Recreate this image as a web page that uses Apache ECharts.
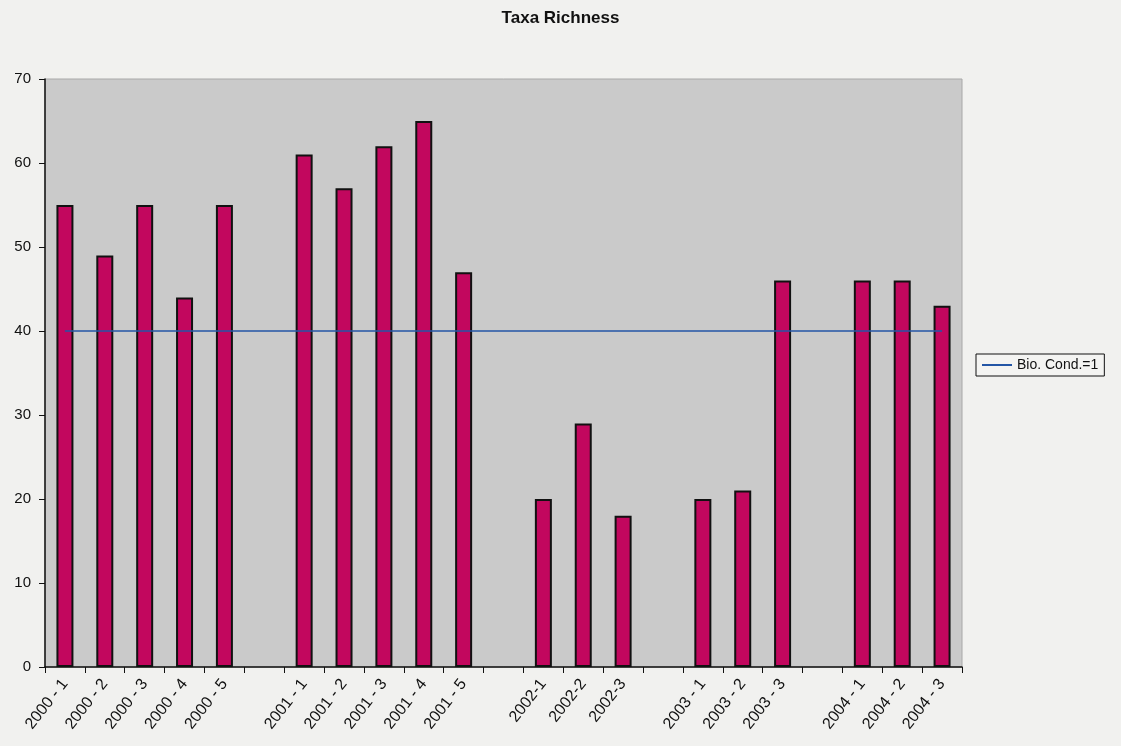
<!DOCTYPE html>
<html>
<head>
<meta charset="utf-8">
<title>Taxa Richness</title>
<script src="https://cdn.jsdelivr.net/npm/echarts@6/dist/echarts.min.js"></script>
<style>
  html, body { margin: 0; padding: 0; background: #f1f1ef; }
  #chart { width: 1121px; height: 746px; }
</style>
</head>
<body>
<div id="chart"></div>
<script>
// sample periods, blank slots are the gaps between years
var categories = ['2000 - 1', '2000 - 2', '2000 - 3', '2000 - 4', '2000 - 5', ' ',
                  '2001 - 1', '2001 - 2', '2001 - 3', '2001 - 4', '2001 - 5', '  ',
                  '2002-1', '2002-2', '2002-3', '   ',
                  '2003 - 1', '2003 - 2', '2003 - 3', '    ',
                  '2004 - 1', '2004 - 2', '2004 - 3'];

var taxaRichness = [55, 49, 55, 44, 55, null,
                    61, 57, 62, 65, 47, null,
                    20, 29, 18, null,
                    20, 21, 46, null,
                    46, 46, 43];

// reference line
var bioCondition = [40, 40, 40, 40, 40, 40, 40, 40, 40, 40, 40, 40,
                    40, 40, 40, 40, 40, 40, 40, 40, 40, 40, 40];

var yTicks = { min: 0, max: 70, interval: 10 };

var myChart = echarts.init(document.getElementById('chart'));
myChart.setOption({
  backgroundColor: '#f1f1ef',
  animation: false,
  textStyle: { fontFamily: 'Liberation Sans, Arial, sans-serif', color: '#000' },
  title: {
    text: 'Taxa Richness',
    left: 'center',
    top: 5,
    textStyle: { fontSize: 17, fontWeight: 'bold', color: '#111' }
  },
  legend: {
    data: [{ name: 'Bio. Cond.=1', icon: 'rect' }],
    orient: 'vertical',
    left: 976,
    top: 354,
    itemWidth: 30,
    itemHeight: 2,
    itemGap: 4,
    padding: [4, 6, 4, 6],
    borderColor: '#111',
    borderWidth: 1,
    backgroundColor: '#f4f4f2',
    borderRadius: 0,
    textStyle: { fontSize: 14, color: '#111' }
  },
  grid: {
    left: 45,
    right: 159,
    top: 79,
    bottom: 79,
    show: true,
    backgroundColor: '#cacaca',
    borderColor: '#a8a8a8',
    borderWidth: 1
  },
  xAxis: {
    type: 'category',
    data: categories,
    axisLine: { lineStyle: { color: '#111', width: 1.5 } },
    axisTick: { show: true, inside: false, length: 6, lineStyle: { color: '#111' } },
    axisLabel: {
      interval: 0,
      rotate: 52,
      fontSize: 16,
      color: '#111',
      margin: 14
    },
    splitLine: { show: false }
  },
  yAxis: {
    type: 'value',
    min: yTicks.min,
    max: yTicks.max,
    interval: yTicks.interval,
    axisLine: { show: true, lineStyle: { color: '#111', width: 1.5 } },
    axisTick: { show: true, length: 6, lineStyle: { color: '#111' } },
    axisLabel: { fontSize: 15, color: '#111', margin: 14 },
    splitLine: { show: false }
  },
  series: [
    {
      name: 'Taxa Richness',
      type: 'bar',
      data: taxaRichness,
      barWidth: 17,
      itemStyle: {
        color: '#c2075e',
        borderColor: '#111',
        borderWidth: 2
      }
    },
    {
      name: 'Bio. Cond.=1',
      type: 'line',
      data: bioCondition,
      symbol: 'none',
      lineStyle: { color: '#2456a6', width: 1.5 },
      itemStyle: { color: '#2456a6' },
      z: 5
    }
  ]
});
</script>
</body>
</html>
